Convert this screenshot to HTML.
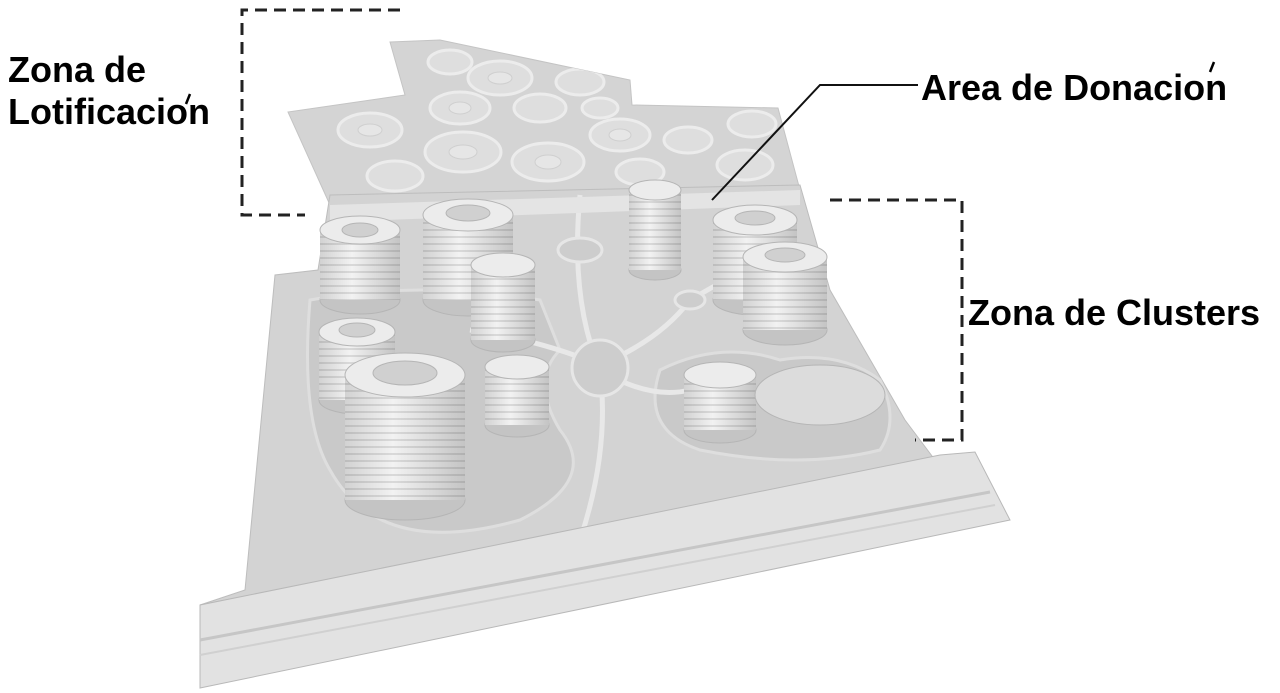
<!DOCTYPE html>
<html><head><meta charset="utf-8"><style>
html,body{margin:0;padding:0;background:#fff;}
svg{display:block;}
text{font-family:"Liberation Sans",sans-serif;font-weight:bold;fill:#000;}
</style></head><body>
<svg width="1280" height="693" viewBox="0 0 1280 693" xmlns="http://www.w3.org/2000/svg">
<defs>
<linearGradient id="cyl" x1="0" x2="1" y1="0" y2="0">
<stop offset="0" stop-color="#d2d2d2"/><stop offset="0.4" stop-color="#f2f2f2"/><stop offset="1" stop-color="#c4c4c4"/>
</linearGradient>
<pattern id="rings" width="10" height="7" patternUnits="userSpaceOnUse">
<rect y="5" width="10" height="2" fill="#000" opacity="0.1"/>
</pattern>
<clipPath id="lot"><polygon points="390,42 440,40 630,80 632,105 778,108 800,190 560,205 330,205 288,112 405,95"/></clipPath>
</defs>
<polygon points="390,42 440,40 630,80 632,105 778,108 800,190 560,205 330,205 288,112 405,95" fill="#d4d4d4" stroke="#c4c4c4"/>
<g clip-path="url(#lot)" fill="#dedede" stroke="#ececec" stroke-width="3">
<ellipse cx="450" cy="62" rx="22" ry="12"/><ellipse cx="500" cy="78" rx="32" ry="17"/><ellipse cx="580" cy="82" rx="24" ry="13"/>
<ellipse cx="460" cy="108" rx="30" ry="16"/><ellipse cx="540" cy="108" rx="26" ry="14"/><ellipse cx="600" cy="108" rx="18" ry="10"/>
<ellipse cx="370" cy="130" rx="32" ry="17"/><ellipse cx="620" cy="135" rx="30" ry="16"/><ellipse cx="688" cy="140" rx="24" ry="13"/><ellipse cx="752" cy="124" rx="24" ry="13"/>
<ellipse cx="463" cy="152" rx="38" ry="20"/><ellipse cx="548" cy="162" rx="36" ry="19"/><ellipse cx="395" cy="176" rx="28" ry="15"/><ellipse cx="640" cy="172" rx="24" ry="13"/><ellipse cx="745" cy="165" rx="28" ry="15"/>
</g>
<g clip-path="url(#lot)" fill="#e6e6e6" stroke="#cfcfcf" stroke-width="1">
<ellipse cx="500" cy="78" rx="12" ry="6"/><ellipse cx="460" cy="108" rx="11" ry="6"/><ellipse cx="370" cy="130" rx="12" ry="6"/><ellipse cx="463" cy="152" rx="14" ry="7"/><ellipse cx="548" cy="162" rx="13" ry="7"/><ellipse cx="620" cy="135" rx="11" ry="6"/>
</g>
<polygon points="330,195 800,185 830,290 905,420 935,460 200,605 245,590 275,275 318,270" fill="#d3d3d3" stroke="#bdbdbd"/>
<g fill="#c9c9c9" stroke="#dedede" stroke-width="3">
<path d="M310,300 Q300,420 330,470 Q380,560 520,520 Q600,480 560,430 Q530,380 560,350 L540,300 Q420,280 310,300Z"/>
<path d="M660,370 Q640,430 700,450 Q800,470 880,450 Q900,420 880,380 Q840,350 780,360 Q720,340 660,370Z"/>
</g>
<g fill="none" stroke="#e8e8e8" stroke-width="5">
<path d="M580,195 Q570,300 600,370 Q610,450 580,540"/>
<path d="M600,365 Q660,340 690,300 L760,260"/>
<path d="M600,365 Q540,340 470,330"/>
<path d="M600,370 Q650,400 690,390"/>
</g>
<circle cx="600" cy="368" r="28" fill="#cdcdcd" stroke="#e6e6e6" stroke-width="3"/>
<ellipse cx="580" cy="250" rx="22" ry="12" fill="#cdcdcd" stroke="#e6e6e6" stroke-width="3"/>
<ellipse cx="690" cy="300" rx="15" ry="9" fill="#cdcdcd" stroke="#e6e6e6" stroke-width="3"/>
<polygon points="330,205 800,190 800,205 330,222" fill="#e4e4e4"/>
<polygon points="200,605 940,455 975,452 1010,520 200,688" fill="#e2e2e2" stroke="#b8b8b8"/>
<polyline points="200,640 990,492" stroke="#c6c6c6" stroke-width="3" fill="none"/>
<polyline points="200,655 995,505" stroke="#d0d0d0" stroke-width="2" fill="none"/>
<g stroke="#b5b5b5" stroke-width="1">
<g><ellipse cx="360" cy="300" rx="40" ry="14" fill="#c4c4c4"/><rect x="320" y="230" width="80" height="70" fill="url(#cyl)" stroke="none"/><rect x="320" y="230" width="80" height="70" fill="url(#rings)" stroke="none"/><ellipse cx="360" cy="230" rx="40" ry="14" fill="#ececec"/><ellipse cx="360" cy="230" rx="18" ry="7" fill="#d0d0d0"/></g>
<g><ellipse cx="468" cy="300" rx="45" ry="16" fill="#c4c4c4"/><rect x="423" y="215" width="90" height="85" fill="url(#cyl)" stroke="none"/><rect x="423" y="215" width="90" height="85" fill="url(#rings)" stroke="none"/><ellipse cx="468" cy="215" rx="45" ry="16" fill="#ececec"/><ellipse cx="468" cy="213" rx="22" ry="8" fill="#d0d0d0"/></g>
<g><ellipse cx="503" cy="340" rx="32" ry="12" fill="#c4c4c4"/><rect x="471" y="265" width="64" height="75" fill="url(#cyl)" stroke="none"/><rect x="471" y="265" width="64" height="75" fill="url(#rings)" stroke="none"/><ellipse cx="503" cy="265" rx="32" ry="12" fill="#ececec"/></g>
<g><ellipse cx="655" cy="270" rx="26" ry="10" fill="#c4c4c4"/><rect x="629" y="190" width="52" height="80" fill="url(#cyl)" stroke="none"/><rect x="629" y="190" width="52" height="80" fill="url(#rings)" stroke="none"/><ellipse cx="655" cy="190" rx="26" ry="10" fill="#ececec"/></g>
<g><ellipse cx="755" cy="300" rx="42" ry="15" fill="#c4c4c4"/><rect x="713" y="220" width="84" height="80" fill="url(#cyl)" stroke="none"/><rect x="713" y="220" width="84" height="80" fill="url(#rings)" stroke="none"/><ellipse cx="755" cy="220" rx="42" ry="15" fill="#ececec"/><ellipse cx="755" cy="218" rx="20" ry="7" fill="#d0d0d0"/></g>
<g><ellipse cx="785" cy="330" rx="42" ry="15" fill="#c4c4c4"/><rect x="743" y="257" width="84" height="73" fill="url(#cyl)" stroke="none"/><rect x="743" y="257" width="84" height="73" fill="url(#rings)" stroke="none"/><ellipse cx="785" cy="257" rx="42" ry="15" fill="#ececec"/><ellipse cx="785" cy="255" rx="20" ry="7" fill="#d0d0d0"/></g>
<g><ellipse cx="357" cy="400" rx="38" ry="14" fill="#c4c4c4"/><rect x="319" y="332" width="76" height="68" fill="url(#cyl)" stroke="none"/><rect x="319" y="332" width="76" height="68" fill="url(#rings)" stroke="none"/><ellipse cx="357" cy="332" rx="38" ry="14" fill="#ececec"/><ellipse cx="357" cy="330" rx="18" ry="7" fill="#d0d0d0"/></g>
<g><ellipse cx="517" cy="425" rx="32" ry="12" fill="#c4c4c4"/><rect x="485" y="367" width="64" height="58" fill="url(#cyl)" stroke="none"/><rect x="485" y="367" width="64" height="58" fill="url(#rings)" stroke="none"/><ellipse cx="517" cy="367" rx="32" ry="12" fill="#ececec"/></g>
<g><ellipse cx="405" cy="500" rx="60" ry="20" fill="#c4c4c4"/><rect x="345" y="375" width="120" height="125" fill="url(#cyl)" stroke="none"/><rect x="345" y="375" width="120" height="125" fill="url(#rings)" stroke="none"/><ellipse cx="405" cy="375" rx="60" ry="22" fill="#ececec"/><ellipse cx="405" cy="373" rx="32" ry="12" fill="#d0d0d0"/></g>
<g><ellipse cx="720" cy="430" rx="36" ry="13" fill="#c4c4c4"/><rect x="684" y="375" width="72" height="55" fill="url(#cyl)" stroke="none"/><rect x="684" y="375" width="72" height="55" fill="url(#rings)" stroke="none"/><ellipse cx="720" cy="375" rx="36" ry="13" fill="#ececec"/></g>
<ellipse cx="820" cy="395" rx="65" ry="30" fill="#dcdcdc"/>
</g>
<g fill="none" stroke="#222" stroke-width="3" stroke-dasharray="12,7">
<polyline points="400,10 242,10 242,215 305,215"/>
<polyline points="830,200 962,200 962,440 915,440"/>
</g>
<polyline points="918,85 820,85 712,200" fill="none" stroke="#111" stroke-width="2"/>
<text x="8" y="82" font-size="36">Zona de</text>
<text x="8" y="124" font-size="36">Lotificacion</text>
<line x1="190" y1="94" x2="186" y2="104" stroke="#000" stroke-width="2.5"/>
<text x="921" y="100" font-size="36">Area de Donacion</text>
<line x1="1214" y1="62" x2="1210" y2="72" stroke="#000" stroke-width="2.5"/>
<text x="968" y="325" font-size="36">Zona de Clusters</text>
</svg>
</body></html>
